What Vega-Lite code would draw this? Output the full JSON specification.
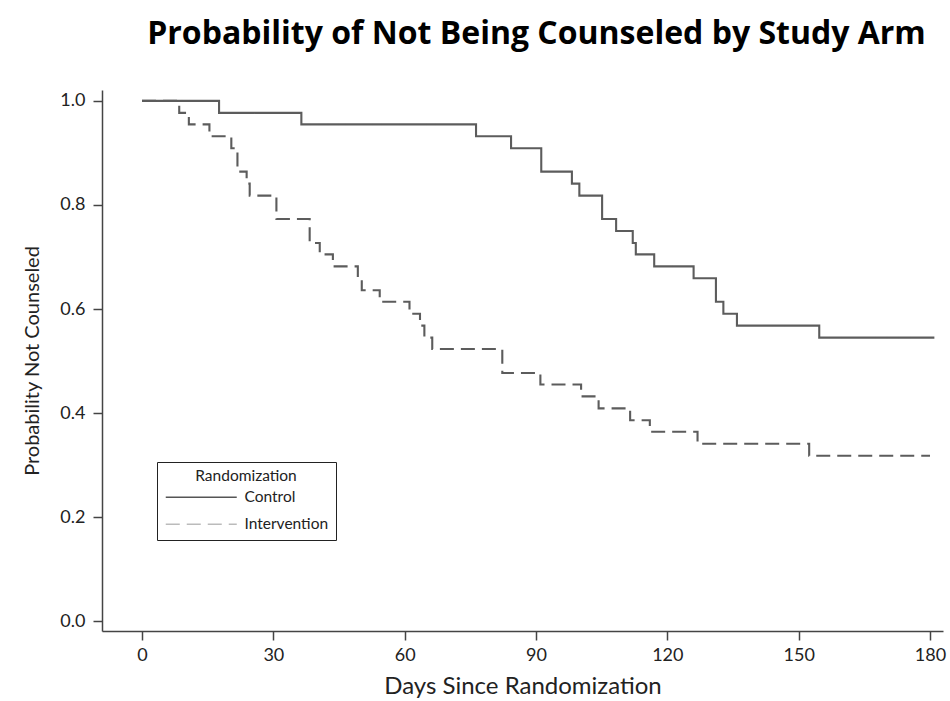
{
  "$schema": "https://vega.github.io/schema/vega-lite/v6.json",
  "width": 841,
  "height": 541,
  "autosize": "none",
  "padding": {"left": 102, "top": 90, "right": 7, "bottom": 70},
  "background": "white",
  "title": {
    "text": "Probability of Not Being Counseled by Study Arm",
    "font": "Open Sans",
    "fontSize": 32,
    "fontWeight": "bold",
    "color": "#000000",
    "anchor": "middle",
    "dx": 14,
    "offset": 39
  },
  "data": {
    "values": [
      {"day": 0, "prob": 1.0, "arm": "Control"},
      {"day": 17.6, "prob": 0.977, "arm": "Control"},
      {"day": 36.4, "prob": 0.955, "arm": "Control"},
      {"day": 76.3, "prob": 0.932, "arm": "Control"},
      {"day": 84.3, "prob": 0.909, "arm": "Control"},
      {"day": 91.2, "prob": 0.864, "arm": "Control"},
      {"day": 98.2, "prob": 0.841, "arm": "Control"},
      {"day": 99.9, "prob": 0.818, "arm": "Control"},
      {"day": 105.1, "prob": 0.773, "arm": "Control"},
      {"day": 108.3, "prob": 0.75, "arm": "Control"},
      {"day": 112.1, "prob": 0.727, "arm": "Control"},
      {"day": 112.8, "prob": 0.705, "arm": "Control"},
      {"day": 117.0, "prob": 0.682, "arm": "Control"},
      {"day": 126.0, "prob": 0.659, "arm": "Control"},
      {"day": 131.1, "prob": 0.614, "arm": "Control"},
      {"day": 132.8, "prob": 0.591, "arm": "Control"},
      {"day": 135.9, "prob": 0.568, "arm": "Control"},
      {"day": 154.7, "prob": 0.545, "arm": "Control"},
      {"day": 181, "prob": 0.545, "arm": "Control"},
      {"day": 0, "prob": 1.0, "arm": "Intervention"},
      {"day": 8.5, "prob": 0.977, "arm": "Intervention"},
      {"day": 10.7, "prob": 0.955, "arm": "Intervention"},
      {"day": 15.4, "prob": 0.932, "arm": "Intervention"},
      {"day": 20.4, "prob": 0.909, "arm": "Intervention"},
      {"day": 21.8, "prob": 0.864, "arm": "Intervention"},
      {"day": 23.9, "prob": 0.841, "arm": "Intervention"},
      {"day": 24.6, "prob": 0.818, "arm": "Intervention"},
      {"day": 30.7, "prob": 0.773, "arm": "Intervention"},
      {"day": 38.3, "prob": 0.727, "arm": "Intervention"},
      {"day": 40.6, "prob": 0.705, "arm": "Intervention"},
      {"day": 43.6, "prob": 0.682, "arm": "Intervention"},
      {"day": 49.3, "prob": 0.659, "arm": "Intervention"},
      {"day": 50.2, "prob": 0.636, "arm": "Intervention"},
      {"day": 54.3, "prob": 0.614, "arm": "Intervention"},
      {"day": 61.1, "prob": 0.591, "arm": "Intervention"},
      {"day": 63.5, "prob": 0.568, "arm": "Intervention"},
      {"day": 64.5, "prob": 0.545, "arm": "Intervention"},
      {"day": 66.3, "prob": 0.523, "arm": "Intervention"},
      {"day": 82.3, "prob": 0.477, "arm": "Intervention"},
      {"day": 91.0, "prob": 0.455, "arm": "Intervention"},
      {"day": 100.3, "prob": 0.432, "arm": "Intervention"},
      {"day": 104.3, "prob": 0.409, "arm": "Intervention"},
      {"day": 111.5, "prob": 0.386, "arm": "Intervention"},
      {"day": 116.0, "prob": 0.364, "arm": "Intervention"},
      {"day": 126.9, "prob": 0.341, "arm": "Intervention"},
      {"day": 152.4, "prob": 0.318, "arm": "Intervention"},
      {"day": 180, "prob": 0.318, "arm": "Intervention"}
    ]
  },
  "mark": {"type": "line", "interpolate": "step-after", "color": "#5c5c5c", "strokeWidth": 2.1},
  "encoding": {
    "x": {
      "field": "day",
      "type": "quantitative",
      "scale": {"domain": [-9.14, 182.97], "nice": false, "zero": false},
      "axis": {
        "title": "Days Since Randomization",
        "values": [0, 30, 60, 90, 120, 150, 180],
        "format": "d",
        "grid": false
      }
    },
    "y": {
      "field": "prob",
      "type": "quantitative",
      "scale": {"domain": [-0.019, 1.021], "nice": false, "zero": false},
      "axis": {
        "title": "Probability Not Counseled",
        "values": [0, 0.2, 0.4, 0.6, 0.8, 1.0],
        "format": ".1f",
        "grid": false
      }
    },
    "strokeDash": {
      "field": "arm",
      "type": "nominal",
      "scale": {"domain": ["Control", "Intervention"], "range": [[1, 0], [14, 7]]},
      "legend": {
        "title": "Randomization",
        "orient": "none",
        "legendX": 55,
        "legendY": 372,
        "direction": "vertical",
        "symbolType": "M-1.2,0H13.0",
        "symbolSize": 100,
        "symbolStrokeWidth": 1.5,
        "symbolStrokeColor": "#555555",
        "strokeColor": "#222222",
        "fillColor": "white",
        "padding": 7,
        "rowPadding": 10,
        "titlePadding": 5,
        "titleAnchor": "middle",
        "titleFont": "Lato",
        "titleFontSize": 15.5,
        "titleFontWeight": "normal",
        "titleColor": "#222222",
        "labelFont": "Lato",
        "labelFontSize": 15.5,
        "labelColor": "#222222",
        "labelOffset": 65,
        "encode": {
          "symbols": {
            "update": {
              "stroke": {"signal": "datum.value === 'Intervention' ? '#bbbbbb' : '#555555'"}
            }
          }
        }
      }
    }
  },
  "config": {
    "view": {"stroke": null},
    "axis": {
      "domainColor": "#444444",
      "domainWidth": 1.5,
      "tickColor": "#444444",
      "tickWidth": 1.5,
      "tickSize": 9,
      "labelFont": "Lato",
      "labelFontSize": 18,
      "labelColor": "#222222",
      "titleFont": "Lato",
      "titleFontWeight": "normal",
      "titleColor": "#222222"
    },
    "axisX": {"labelPadding": 6, "titlePadding": 10, "titleFontSize": 24},
    "axisY": {"labelPadding": 8, "titlePadding": 17, "titleFontSize": 20}
  }
}
